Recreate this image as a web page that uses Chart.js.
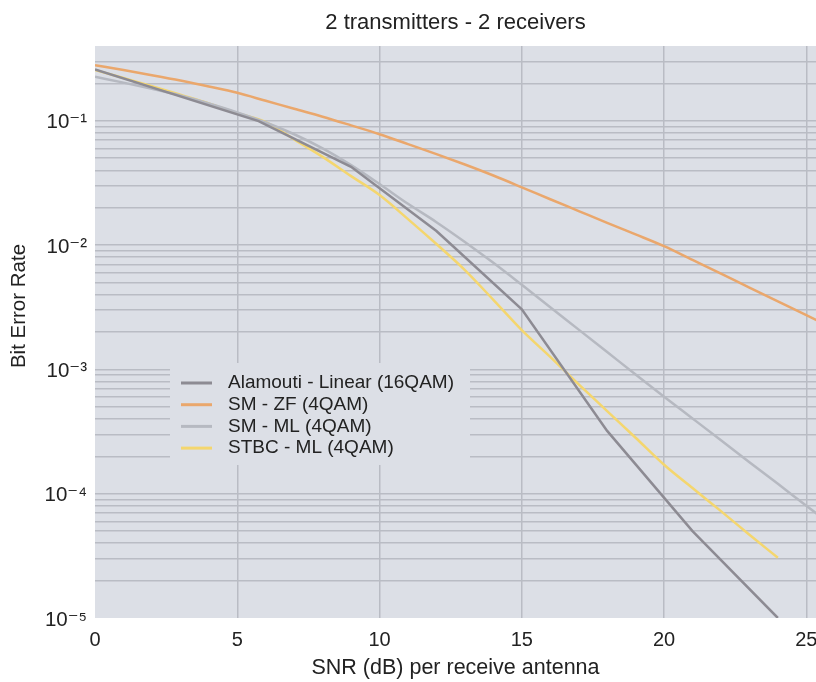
<!DOCTYPE html>
<html>
<head>
<meta charset="utf-8">
<script src="https://cdn.jsdelivr.net/npm/chart.js@4/dist/chart.umd.min.js"></script>
<style>
  html, body { margin: 0; padding: 0; background: #fff; overflow: hidden; }
</style>
</head>
<body>
<canvas id="berchart" width="816" height="682"></canvas>
<script>
// SNR grid (dB) used by the smooth curves
const snrGrid = [0, 1, 2, 3, 4, 5, 6, 7, 8, 9, 10, 11, 12, 13, 14, 15, 16, 17, 18, 19, 20, 21, 22, 23, 24, 25, 26];

const zfBer = [0.280, 0.256, 0.233, 0.211, 0.189, 0.168, 0.145, 0.125, 0.108, 0.092, 0.078, 0.065, 0.054,
  0.0445, 0.0363, 0.0292, 0.0234, 0.0188, 0.0151, 0.0122, 0.0098, 0.0076, 0.0059, 0.00455, 0.00352, 0.00273, 0.00211];

const smMlBer = [0.226, 0.203, 0.181, 0.160, 0.138, 0.117, 0.097, 0.078, 0.060, 0.044, 0.031, 0.0215, 0.0153,
  0.0106, 0.0072, 0.00479, 0.00316, 0.00209, 0.00138, 0.00091, 0.000603, 0.000403, 0.000269, 0.000179,
  0.00012, 0.00008, 0.0000537];

const stbcSnr = [0, 1, 2, 3, 4, 5, 6, 7, 8, 9, 10, 11, 12, 13, 14, 15, 16, 17, 18, 19, 20, 21, 22, 23, 24];
const stbcBer = [0.257, 0.221, 0.190, 0.162, 0.138, 0.115, 0.0977, 0.071, 0.0513, 0.0359, 0.0253, 0.0162, 0.0102,
  0.0063, 0.00363, 0.00207, 0.00126, 0.000759, 0.000462, 0.000282, 0.000171, 0.000111, 0.0000724,
  0.0000468, 0.0000305];

const alamoutiSnr = [0, 5.75, 9, 12, 15, 18, 21, 24];
const alamoutiBer = [0.259, 0.0995, 0.0427, 0.013, 0.00305, 0.00032, 0.00005, 0.00001];

const seriesLabels = ['Alamouti - Linear (16QAM)', 'SM - ZF (4QAM)', 'SM - ML (4QAM)', 'STBC - ML (4QAM)'];
const seriesColors = ['#8d8b93', '#eaa76c', '#b6b9c1', '#f4d66e'];

const xTicks = [0, 5, 10, 15, 20, 25];
const xMin = 0, xMax = 25.34;
const yMin = 1e-5, yMax = 0.4;
const yDecades = [1e-5, 1e-4, 1e-3, 1e-2, 1e-1];
const yDecadeLabels = ['10\u207B\u2075', '10\u207B\u2074', '10\u207B\u00B3', '10\u207B\u00B2', '10\u207B\u00B9'];

const FONT = '"Liberation Sans", Arial, "DejaVu Sans", sans-serif';
const PLOT_BG = '#dcdfe6';
const GRID = '#b9bcc4';
const TEXT = '#222222';

function toPoints(xs, ys) {
  return xs.map((x, i) => ({x: x, y: ys[i]}));
}

const plotBackground = {
  id: 'plotBackground',
  beforeDraw(chart) {
    const {ctx, chartArea: a} = chart;
    ctx.save();
    ctx.fillStyle = PLOT_BG;
    ctx.fillRect(a.left, a.top, a.right - a.left, a.bottom - a.top);
    ctx.restore();
  }
};

// legend sits inside the plot, with its own box hiding the grid
const insetLegend = {
  id: 'insetLegend',
  afterDraw(chart) {
    const ctx = chart.ctx;
    ctx.save();
    ctx.fillStyle = PLOT_BG;
    ctx.fillRect(170, 363, 300, 102);
    ctx.font = '19px ' + FONT;
    ctx.textBaseline = 'middle';
    chart.data.datasets.forEach((ds, i) => {
      const y = 383 + i * 21.7;
      ctx.strokeStyle = ds.borderColor;
      ctx.lineWidth = 3;
      ctx.beginPath();
      ctx.moveTo(181, y);
      ctx.lineTo(212, y);
      ctx.stroke();
      ctx.fillStyle = TEXT;
      ctx.fillText(ds.label, 228, y);
    });
    ctx.restore();
  }
};

// y axis title, placed like the original (not centred on the cropped plot)
const yAxisTitle = {
  id: 'yAxisTitle',
  afterDraw(chart) {
    const ctx = chart.ctx;
    ctx.save();
    ctx.translate(19, 306);
    ctx.rotate(-Math.PI / 2);
    ctx.font = '20.5px ' + FONT;
    ctx.fillStyle = TEXT;
    ctx.textAlign = 'center';
    ctx.textBaseline = 'middle';
    ctx.fillText('Bit Error Rate', 0, 0);
    ctx.restore();
  }
};

function edgeGrid(c) {
  const v = c.tick ? c.tick.value : null;
  if (v === xMin || v === yMin || v === yMax) return 'rgba(0,0,0,0)';
  return GRID;
}

Chart.defaults.font.family = FONT;
Chart.defaults.color = TEXT;

const data = {
  datasets: [
    {
      label: seriesLabels[0],
      data: toPoints(alamoutiSnr, alamoutiBer),
      borderColor: seriesColors[0],
      borderWidth: 2.5,
      pointRadius: 0,
      tension: 0,
      clip: 0
    },
    {
      label: seriesLabels[1],
      data: toPoints(snrGrid, zfBer),
      borderColor: seriesColors[1],
      borderWidth: 2.5,
      pointRadius: 0,
      cubicInterpolationMode: 'monotone',
      clip: 0
    },
    {
      label: seriesLabels[2],
      data: toPoints(snrGrid, smMlBer),
      borderColor: seriesColors[2],
      borderWidth: 2.5,
      pointRadius: 0,
      cubicInterpolationMode: 'monotone',
      clip: 0
    },
    {
      label: seriesLabels[3],
      data: toPoints(stbcSnr, stbcBer),
      borderColor: seriesColors[3],
      borderWidth: 2.5,
      pointRadius: 0,
      cubicInterpolationMode: 'monotone',
      clip: 0
    }
  ]
};

const config = {
  type: 'line',
  data: data,
  options: {
    responsive: false,
    animation: false,
    devicePixelRatio: 1,
    layout: { padding: 0 },
    plugins: {
      legend: { display: false },
      tooltip: { enabled: false },
      title: {
        display: true,
        text: '2 transmitters - 2 receivers',
        fullSize: false,
        color: TEXT,
        font: { size: 22, weight: 'normal' },
        padding: { top: 10, bottom: 9.6 }
      }
    },
    scales: {
      x: {
        type: 'linear',
        min: xMin,
        max: xMax,
        afterBuildTicks(scale) {
          scale.ticks = xTicks.map(v => ({value: v}));
        },
        afterFit(scale) {
          scale.height = 64;
          scale.paddingLeft = 0;
          scale.paddingRight = 0;
        },
        border: { display: false },
        grid: { color: edgeGrid, lineWidth: 1.5, drawTicks: false },
        ticks: { color: TEXT, font: { size: 20 }, padding: 10, maxRotation: 0, autoSkip: false },
        title: {
          display: true,
          text: 'SNR (dB) per receive antenna',
          color: TEXT,
          font: { size: 21.5 },
          padding: { top: 4, bottom: 1 }
        }
      },
      y: {
        type: 'logarithmic',
        min: yMin,
        max: yMax,
        afterBuildTicks(scale) {
          const t = [];
          yDecades.forEach(d => {
            for (let m = 1; m <= 9; m++) {
              const v = +(m * d).toPrecision(6);
              if (v <= yMax) t.push({value: v});
            }
          });
          scale.ticks = t;
        },
        afterFit(scale) {
          scale.width = 95;
          scale.paddingTop = 0;
          scale.paddingBottom = 0;
        },
        border: { display: false },
        grid: { color: edgeGrid, lineWidth: 1.5, drawTicks: false },
        ticks: {
          color: TEXT,
          font: { size: 20.5 },
          padding: 8,
          labelOffset: 2,
          autoSkip: false,
          callback(v) {
            const i = yDecades.findIndex(d => Math.abs(d - v) / d < 1e-6);
            return i >= 0 ? yDecadeLabels[i] : '';
          }
        }
      }
    }
  },
  plugins: [plotBackground, insetLegend, yAxisTitle]
};

const ctx = document.getElementById('berchart').getContext('2d');
new Chart(ctx, config);
</script>
</body>
</html>
